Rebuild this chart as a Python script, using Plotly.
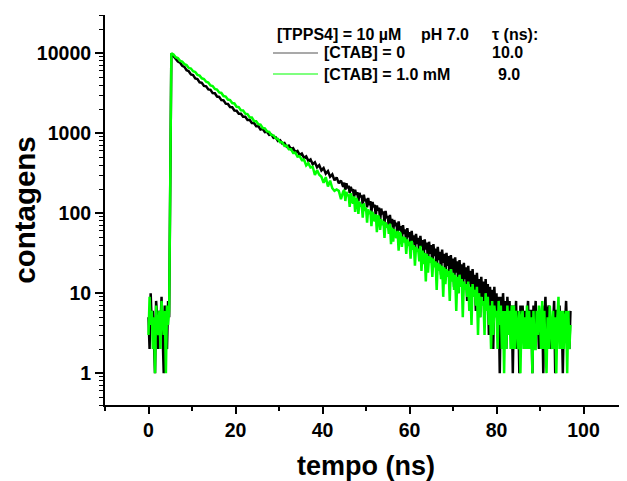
import numpy as np
import plotly.graph_objects as go

# ---------------- data ----------------
# time grid of each recorded segment (ns): start, channel width
pre_start, pre_step = 0.0, 0.25
decay_start, decay_step = 5.25, 0.5
tail_start, tail_step = 45.0, 0.25

# [CTAB] = 0  (black)
ctab0_pre = [5, 2, 10, 4, 6, 3, 1, 8, 5, 2, 6, 4, 9, 3, 1, 7, 4, 2, 8, 5]
ctab0_decay = [
    9900, 9180, 8710, 7880, 7610, 6950, 6730, 6120, 5950, 5410,
    5330, 4840, 4760, 4320, 4260, 3890, 3850, 3520, 3480, 3170,
    3150, 2870, 2840, 2590, 2570, 2340, 2320, 2120, 2110, 1920,
    1910, 1750, 1750, 1600, 1600, 1460, 1470, 1340, 1340, 1220,
    1230, 1110, 1130, 1030, 1040, 950, 960, 875, 885, 800,
    815, 740, 755, 680, 700, 630, 650, 580, 600, 535,
    555, 492, 512, 450, 470, 410, 432, 375, 398, 342,
    366, 312, 335, 285, 305, 258, 280, 236, 255, 214]
ctab0_tail = [
    241, 196, 236, 205, 221, 178, 214, 190, 199, 158, 196, 170,
    183, 141, 179, 159, 166, 127, 170, 142, 151, 118, 155, 126,
    141, 104, 138, 119, 127, 94, 125, 108, 117, 81, 114, 97,
    105, 76, 107, 86, 92, 68, 95, 73, 85, 59, 82, 69,
    76, 52, 79, 61, 69, 47, 71, 55, 63, 41, 65, 50,
    58, 38, 60, 44, 53, 34, 55, 41, 49, 30, 52, 38,
    46, 27, 47, 35, 43, 24, 44, 31, 40, 21, 41, 29,
    36, 19, 38, 26, 33, 17, 35, 24, 31, 15, 32, 22,
    29, 13, 30, 20, 27, 12, 28, 18, 25, 10, 26, 16,
    23, 9, 24, 15, 21, 8, 22, 13, 19, 7, 20, 12,
    17, 6, 18, 10, 15, 5, 16, 9, 14, 4, 15, 8,
    13, 3, 12, 7, 11, 2, 12, 6, 10, 3, 9, 1,
    9, 4, 10, 5, 8, 2, 9, 5, 8, 3, 7, 1,
    7, 4, 8, 2, 6, 1, 7, 4, 7, 3, 6, 2,
    5, 8, 2, 6, 6, 1, 7, 4, 8, 3, 5, 2,
    6, 4, 7, 1, 5, 9, 3, 6, 7, 2, 5, 4,
    4, 8, 1, 6, 6, 3, 7, 2, 5, 1, 6, 4,
    8, 3, 5, 2, 6]

# [CTAB] = 1.0 mM  (green)
ctab1_pre = [3, 9, 4, 6, 2, 5, 1, 7, 4, 3, 6, 2, 8, 5, 3, 6, 1, 7, 4, 6]
ctab1_decay = [
    9980, 9610, 8890, 8680, 8010, 7850, 7290, 7120, 6540, 6420,
    5950, 5810, 5360, 5240, 4850, 4760, 4390, 4300, 3950, 3880,
    3570, 3510, 3230, 3180, 2910, 2870, 2630, 2590, 2380, 2350,
    2140, 2120, 1930, 1920, 1750, 1730, 1580, 1570, 1420, 1410,
    1290, 1280, 1160, 1150, 1050, 1040, 945, 940, 860, 850,
    770, 770, 695, 700, 628, 630, 565, 570, 510, 515,
    460, 468, 395, 422, 372, 380, 300, 345, 302, 285,
    240, 282, 215, 255, 205, 190, 198, 190, 150, 186]
ctab1_tail = [
    196, 142, 185, 163, 171, 120, 178, 150, 131, 162, 104, 155,
    142, 98, 139, 121, 129, 88, 133, 107, 118, 76, 112, 97,
    108, 69, 104, 86, 79, 97, 58, 94, 88, 62, 84, 71,
    80, 49, 77, 66, 72, 55, 74, 41, 66, 44, 63, 52,
    49, 60, 34, 58, 54, 38, 51, 43, 50, 31, 47, 39,
    44, 27, 45, 35, 40, 22, 38, 33, 36, 25, 39, 19,
    34, 23, 32, 14, 31, 18, 29, 24, 28, 16, 27, 21,
    25, 11, 24, 19, 23, 15, 22, 9, 21, 13, 20, 16,
    19, 8, 20, 14, 18, 11, 17, 6, 16, 10, 17, 12,
    15, 5, 14, 11, 13, 9, 14, 6, 12, 4, 13, 9,
    11, 7, 12, 3, 10, 5, 9, 7, 8, 3, 10, 6,
    9, 4, 7, 2, 8, 3, 7, 5, 6, 2, 8, 4,
    7, 2, 6, 1, 6, 2, 7, 3, 6, 2, 7, 2,
    7, 2, 6, 4, 2, 6, 1, 5, 6, 2, 5, 2,
    7, 2, 6, 2, 5, 1, 6, 2, 2, 6, 3, 7,
    5, 2, 8, 2, 6, 2, 1, 5, 2, 7, 4, 2,
    6, 2, 5, 1, 5, 9, 2, 6, 2, 6, 2, 5,
    6, 1, 6, 2, 4]

series_names = ["[CTAB] = 0", "[CTAB] = 1.0 mM"]
series_colors = ["#000000", "#00ff00"]
legend_line_colors = ["#555555", "#00ff00"]
tau_values = ["10.0", "9.0"]
header_parts = ["[TPPS4] = 10 \u00b5M", "pH 7.0", "\u03c4 (ns):"]
y_tick_labels = ["1", "10", "100", "1000", "10000"]

x_title = "tempo (ns)"
y_title = "contagens"


def time_axis(pre, decay, tail):
    t_pre = pre_start + pre_step * np.arange(len(pre))
    t_dec = decay_start + decay_step * np.arange(len(decay))
    t_tail = tail_start + tail_step * np.arange(len(tail))
    return np.concatenate([t_pre, t_dec, t_tail]), np.array(pre + decay + tail)


FONT = "Liberation Sans, Arial, Helvetica, sans-serif"

fig = go.Figure()
for (pre, dec, tail), name, col in zip(
        [(ctab0_pre, ctab0_decay, ctab0_tail), (ctab1_pre, ctab1_decay, ctab1_tail)],
        series_names, series_colors):
    t, c = time_axis(pre, dec, tail)
    fig.add_trace(go.Scatter(x=t, y=c, mode="lines", name=name,
                             line=dict(color=col, width=2.5), showlegend=False))

# page has an 8px body margin: figure is 8px smaller than the window
PAGE = 8
W, H = 627 - PAGE, 481 - PAGE
ml, mr, mt = 105 - PAGE, 0, 15 - PAGE
mb = H - (405 - PAGE)
pw, ph = W - ml - mr, H - mt - mb


def px(x):  # screen px -> paper
    return (x - PAGE - ml) / pw


def py(y):
    return (H - mb - (y - PAGE)) / ph


leg_font = dict(family=FONT, size=16, color="black", weight="bold")
annots = []
for text, xpix in zip(header_parts, [275, 419, 490]):
    annots.append(dict(x=px(xpix), y=py(34), xref="paper", yref="paper", text=text,
                       showarrow=False, xanchor="left", yanchor="middle", font=leg_font))
shapes = []
for i, (name, lcol, tau) in enumerate(zip(series_names, legend_line_colors, tau_values)):
    yrow = [53, 74][i]
    shapes.append(dict(type="line", xref="paper", yref="paper", x0=px(273), x1=px(318),
                       y0=py(yrow), y1=py(yrow), line=dict(color=lcol, width=1.2)))
    annots.append(dict(x=px(322), y=py(yrow), xref="paper", yref="paper", text=name,
                       showarrow=False, xanchor="left", yanchor="middle", font=leg_font))
    annots.append(dict(x=px([490, 496][i]), y=py(yrow), xref="paper", yref="paper", text=tau,
                       showarrow=False, xanchor="left", yanchor="middle", font=leg_font))

tick_font = dict(family=FONT, size=19.5, color="black", weight="bold")
xtitle_font = dict(family=FONT, size=27, color="black", weight="bold")
ytitle_font = dict(family=FONT, size=29.5, color="black", weight="bold")

y_major = [float(v) for v in y_tick_labels]
y_minor = [m * 10.0 ** e for e in range(-1, 5) for m in range(2, 10)]

fig.update_layout(
    width=W, height=H, margin=dict(l=ml, r=mr, t=mt, b=mb),
    paper_bgcolor="white", plot_bgcolor="white",
    annotations=annots, shapes=shapes,
    xaxis=dict(range=[-10, 110], tick0=0, dtick=20, ticks="outside", ticklen=7,
               tickwidth=1.5, tickcolor="black", showline=True, linecolor="black",
               linewidth=2, showgrid=False, zeroline=False, tickfont=tick_font,
               automargin=False,
               minor=dict(dtick=10, tick0=0, ticks="outside", ticklen=4, tickwidth=1.5,
                          tickcolor="black", showgrid=False),
               title=dict(text=x_title, font=xtitle_font, standoff=19)),
    yaxis=dict(type="log", range=[np.log10(0.4), np.log10(30000)],
               tickmode="array", tickvals=y_major, ticktext=y_tick_labels,
               ticks="outside", ticklen=8, tickwidth=1.5,
               tickcolor="black", showline=True, linecolor="black", linewidth=2,
               showgrid=False, zeroline=False, tickfont=tick_font, automargin=False,
               minor=dict(tickmode="array", tickvals=y_minor, ticks="outside", ticklen=4,
                          tickwidth=1, tickcolor="black", showgrid=False),
               title=dict(text=y_title, font=ytitle_font, standoff=14)),
)

fig.write_html("out.html")
